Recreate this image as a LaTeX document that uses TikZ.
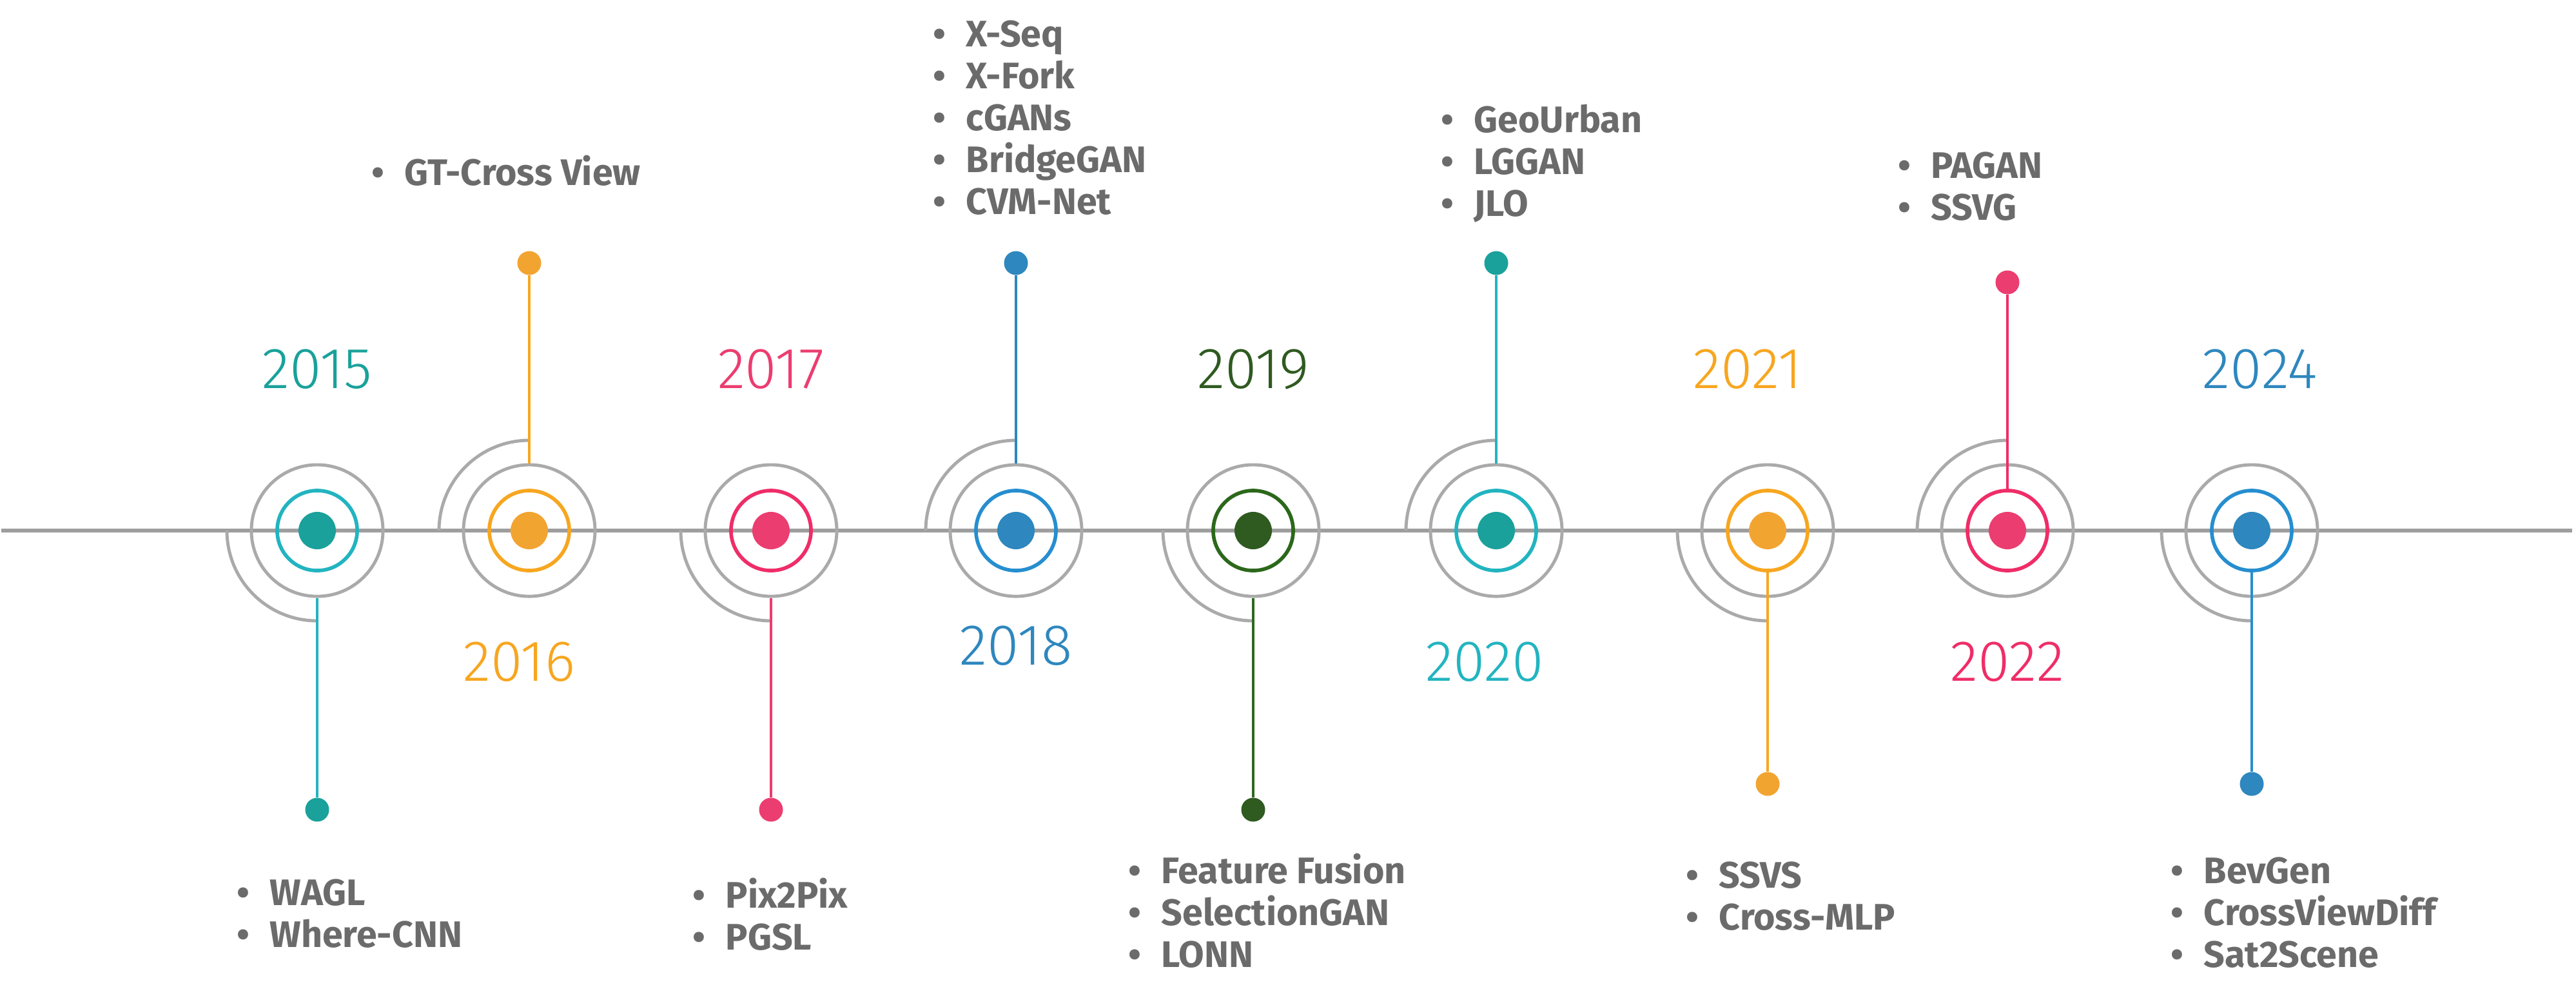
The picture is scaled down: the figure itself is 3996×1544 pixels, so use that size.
\documentclass[tikz,border=0pt]{standalone}
\usepackage{fontspec}
\setmainfont{Fira Sans}
\newfontfamily\yearfont{Fira Sans Light}
\definecolor{lgray}{HTML}{9E9E9E}
\definecolor{rgray}{HTML}{AAAAAA}
\definecolor{tgray}{HTML}{6B6B6B}
\definecolor{tealR}{HTML}{22B4C0}
\definecolor{tealD}{HTML}{1AA19B}
\definecolor{orgR}{HTML}{F7A620}
\definecolor{orgD}{HTML}{F2A431}
\definecolor{pnkR}{HTML}{EF2D68}
\definecolor{pnkD}{HTML}{EB3D70}
\definecolor{bluR}{HTML}{268ECF}
\definecolor{bluD}{HTML}{2E87BE}
\definecolor{grnR}{HTML}{2C681B}
\definecolor{grnD}{HTML}{2F5A20}
\newcommand{\tllist}[4]{\foreach \t [count=\i from 0] in {#4}{\node[itemtxt] (#1\i) at ({#2},{-#3-65*\i}) {\llap{\textbullet\hspace{0.55em}}\t};}}
\begin{document}
\begin{tikzpicture}[x=0.01cm,y=0.01cm,
  mainline/.style={draw=lgray, line width=1.7pt},
  gring/.style={circle, draw=rgray, line width=1.4pt, minimum size=2.04cm, inner sep=0pt},
  cring/.style={circle, draw=#1, line width=1.6pt, minimum size=1.24cm, inner sep=0pt},
  cdot/.style={circle, fill=#1, minimum size=0.58cm, inner sep=0pt},
  edot/.style={circle, fill=#1, minimum size=0.37cm, inner sep=0pt},
  stem/.style={draw=#1, line width=1.15pt},
  garc/.style={draw=rgray, line width=1.4pt},
  year/.style={font=\yearfont\fontsize{25.5}{29}\selectfont, text=#1, inner sep=0pt},
  itemtxt/.style={font=\bfseries\fontsize{16.3}{19}\selectfont, text=tgray, anchor=base west, inner sep=0pt},
]
\useasboundingbox (0,0) rectangle (3996,-1544);
\coordinate (ls) at (2,-823);
\coordinate (le) at (3990,-823);
\draw[mainline] (ls) -- (le);

% ---- 2015 (down, from gray ring)
\node[gring] (g15) at (492,-823) {};
\node[cring=tealR] (c15) at (g15) {};
\node[cdot=tealD] (d15) at (g15) {};
\draw[garc] (g15.center) ++(-140,0) arc[start angle=180, end angle=270, radius=140];
\node[edot=tealD] (e15) at (492,-1256) {};
\draw[stem=tealR] (g15.south) -- (e15.north);
\node[year=tealD] (y15) at (492,-573) {2015};
\tllist{l15}{418}{1404}{WAGL,Where-CNN}

% ---- 2016 (up, from gray ring)
\node[gring] (g16) at (821,-823) {};
\node[cring=orgR] (c16) at (g16) {};
\node[cdot=orgD] (d16) at (g16) {};
\draw[garc] (g16.center) ++(-140,0) arc[start angle=180, end angle=90, radius=140];
\node[edot=orgD] (e16) at (821,-408) {};
\draw[stem=orgR] (g16.north) -- (e16.south);
\node[year=orgR] (y16) at (805,-1027) {2016};
\tllist{l16}{627}{287}{GT-Cross View}

% ---- 2017 (down, from gray ring)
\node[gring] (g17) at (1196,-823) {};
\node[cring=pnkR] (c17) at (g17) {};
\node[cdot=pnkD] (d17) at (g17) {};
\draw[garc] (g17.center) ++(-140,0) arc[start angle=180, end angle=270, radius=140];
\node[edot=pnkD] (e17) at (1196,-1256) {};
\draw[stem=pnkD] (g17.south) -- (e17.north);
\node[year=pnkD] (y17) at (1196,-573) {2017};
\tllist{l17}{1125}{1408}{Pix2Pix,PGSL}

% ---- 2018 (up, from gray ring)
\node[gring] (g18) at (1576,-823) {};
\node[cring=bluR] (c18) at (g18) {};
\node[cdot=bluD] (d18) at (g18) {};
\draw[garc] (g18.center) ++(-140,0) arc[start angle=180, end angle=90, radius=140];
\node[edot=bluD] (e18) at (1576,-408) {};
\draw[stem=bluD] (g18.north) -- (e18.south);
\node[year=bluD] (y18) at (1576,-1002) {2018};
\tllist{l18}{1498}{72}{X-Seq,X-Fork,cGANs,BridgeGAN,CVM-Net}

% ---- 2019 (down, from gray ring)
\node[gring] (g19) at (1944,-823) {};
\node[cring=grnR] (c19) at (g19) {};
\node[cdot=grnD] (d19) at (g19) {};
\draw[garc] (g19.center) ++(-140,0) arc[start angle=180, end angle=270, radius=140];
\node[edot=grnD] (e19) at (1944,-1256) {};
\draw[stem=grnR] (g19.south) -- (e19.north);
\node[year=grnD] (y19) at (1944,-573) {2019};
\tllist{l19}{1801}{1370}{Feature Fusion,SelectionGAN,LONN}

% ---- 2020 (up, from gray ring)
\node[gring] (g20) at (2321,-823) {};
\node[cring=tealR] (c20) at (g20) {};
\node[cdot=tealD] (d20) at (g20) {};
\draw[garc] (g20.center) ++(-140,0) arc[start angle=180, end angle=90, radius=140];
\node[edot=tealD] (e20) at (2321,-408) {};
\draw[stem=tealR] (g20.north) -- (e20.south);
\node[year=tealR] (y20) at (2303,-1027) {2020};
\tllist{l20}{2286}{205}{GeoUrban,LGGAN,JLO}

% ---- 2021 (down, from coloured ring)
\node[gring] (g21) at (2742,-823) {};
\node[cring=orgR] (c21) at (g21) {};
\node[cdot=orgD] (d21) at (g21) {};
\draw[garc] (g21.center) ++(-140,0) arc[start angle=180, end angle=270, radius=140];
\node[edot=orgD] (e21) at (2742,-1216) {};
\draw[stem=orgR] (c21.south) -- (e21.north);
\node[year=orgR] (y21) at (2711,-573) {2021};
\tllist{l21}{2666}{1377}{SSVS,Cross-MLP}

% ---- 2022 (up, from coloured ring)
\node[gring] (g22) at (3114,-823) {};
\node[cring=pnkR] (c22) at (g22) {};
\node[cdot=pnkD] (d22) at (g22) {};
\draw[garc] (g22.center) ++(-140,0) arc[start angle=180, end angle=90, radius=140];
\node[edot=pnkD] (e22) at (3114,-438) {};
\draw[stem=pnkR] (c22.north) -- (e22.south);
\node[year=pnkR] (y22) at (3114,-1027) {2022};
\tllist{l22}{2995}{276}{PAGAN,SSVG}

% ---- 2024 (down, from coloured ring)
\node[gring] (g24) at (3493,-823) {};
\node[cring=bluR] (c24) at (g24) {};
\node[cdot=bluD] (d24) at (g24) {};
\draw[garc] (g24.center) ++(-140,0) arc[start angle=180, end angle=270, radius=140];
\node[edot=bluD] (e24) at (3493,-1216) {};
\draw[stem=bluR] (c24.south) -- (e24.north);
\node[year=bluD] (y24) at (3506,-573) {2024};
\tllist{l24}{3418}{1370}{BevGen,CrossViewDiff,Sat2Scene}
\end{tikzpicture}
\end{document}
